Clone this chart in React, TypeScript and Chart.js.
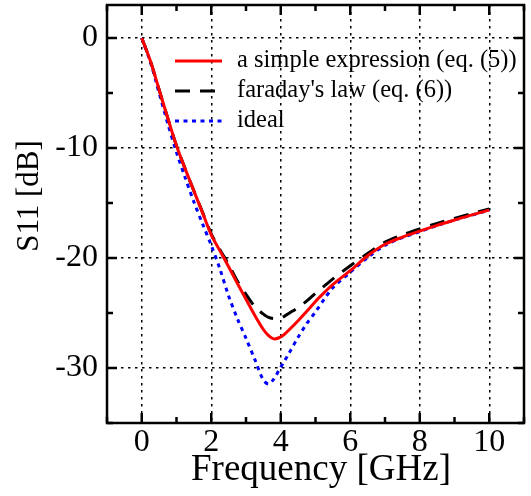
import React, { useEffect, useRef } from "react";
import { Chart, registerables } from "chart.js";

Chart.register(...registerables);

const freq = [0, 0.25, 0.5, 0.75, 1, 1.25, 1.5, 1.75, 2, 2.25, 2.5, 2.75, 3, 3.25, 3.5, 3.65, 3.8, 3.95, 4.1, 4.25, 4.5, 4.75, 5, 5.25, 5.5, 6, 6.5, 7, 7.5, 8, 8.5, 9, 9.5, 10];
const simpleExpr = [0, -2.1, -4.7, -7.3, -9.8, -11.9, -13.9, -15.9, -17.9, -19.35, -20.8, -22.3, -23.75, -25.2, -26.5, -27.05, -27.35, -27.25, -26.95, -26.5, -25.7, -24.85, -23.95, -23.15, -22.4, -21.15, -19.8, -18.75, -18.1, -17.55, -17.03, -16.55, -16.08, -15.65];
const faraday = [0, -2.1, -4.7, -7.3, -9.8, -11.9, -13.9, -15.85, -17.8, -19.25, -20.6, -22.1, -23.3, -24.4, -25.1, -25.4, -25.5, -25.5, -25.3, -25.0, -24.5, -23.9, -23.2, -22.55, -21.9, -20.7, -19.6, -18.55, -17.9, -17.35, -16.85, -16.4, -15.95, -15.55];
const ideal = [0, -2.2, -5.0, -7.8, -10.4, -12.7, -14.9, -16.9, -18.85, -21.0, -23.45, -25.5, -27.3, -29.2, -31.1, -31.45, -31.0, -30.2, -29.4, -28.6, -27.2, -25.95, -24.9, -23.75, -22.7, -21.3, -19.95, -18.85, -18.15, -17.6, -17.05, -16.55, -16.1, -15.65];

const seriesLabels = ["a simple expression (eq. (5))", "faraday's law (eq. (6))", "ideal"];
const xTickValues = [0, 2, 4, 6, 8, 10];
const yTickValues = [-30, -20, -10, 0];
const xMinorValues = [-1, 1, 3, 5, 7, 9, 11];
const yMinorValues = [-35, -25, -15, -5];
const xTitle = "Frequency [GHz]";
const yTitle = "S11 [dB]";

const SERIF = "'Liberation Serif', 'Times New Roman', serif";

const framePlugin = {
  id: "framePlugin",
  afterDraw(chart: any) {
    const ctx = chart.ctx;
    const { left, right, top, bottom } = chart.chartArea;
    const xs = chart.scales.x;
    const ys = chart.scales.y;
    ctx.save();
    ctx.strokeStyle = "#000";
    ctx.lineWidth = 2.5;
    ctx.setLineDash([]);
    const major = 10;
    const minor = 6;
    const drawX = (v: number, len: number) => {
      const px = xs.getPixelForValue(v);
      ctx.beginPath();
      ctx.moveTo(px, bottom);
      ctx.lineTo(px, bottom - len);
      ctx.moveTo(px, top);
      ctx.lineTo(px, top + len);
      ctx.stroke();
    };
    const drawY = (v: number, len: number) => {
      const py = ys.getPixelForValue(v);
      ctx.beginPath();
      ctx.moveTo(left, py);
      ctx.lineTo(left + len, py);
      ctx.moveTo(right, py);
      ctx.lineTo(right - len, py);
      ctx.stroke();
    };
    xTickValues.forEach((v) => drawX(v, major));
    xMinorValues.forEach((v) => drawX(v, minor));
    yTickValues.forEach((v) => drawY(v, major));
    yMinorValues.forEach((v) => drawY(v, minor));
    ctx.strokeRect(left, top, right - left, bottom - top);

    chart.data.datasets.forEach((ds: any, i: number) => {
      const y = 61 + 30 * i;
      ctx.beginPath();
      ctx.strokeStyle = ds.borderColor;
      ctx.lineWidth = ds.borderWidth;
      ctx.setLineDash(ds.borderDash || []);
      ctx.moveTo(175, y);
      ctx.lineTo(222, y);
      ctx.stroke();
      ctx.setLineDash([]);
      ctx.fillStyle = "#000";
      ctx.font = `24.5px ${SERIF}`;
      ctx.textAlign = "left";
      ctx.textBaseline = "middle";
      ctx.fillText(ds.label, 237, y);
    });

    ctx.fillStyle = "#000";
    ctx.font = `37px ${SERIF}`;
    ctx.textAlign = "center";
    ctx.textBaseline = "alphabetic";
    ctx.fillText(xTitle, 321, 480);

    ctx.save();
    ctx.translate(30, 196);
    ctx.rotate(-Math.PI / 2);
    ctx.font = `31px ${SERIF}`;
    ctx.textBaseline = "middle";
    ctx.textAlign = "center";
    ctx.fillText(yTitle, 0, 0);
    ctx.restore();
    ctx.restore();
  },
};

export default function App() {
  const ref = useRef<HTMLCanvasElement | null>(null);
  useEffect(() => {
    if (!ref.current) return;
    const mk = (arr: number[]) => freq.map((f, i) => ({ x: f, y: arr[i] }));
    const common = { pointRadius: 0, tension: 0.3, fill: false, borderWidth: 3 };
    const chart = new Chart(ref.current, {
      type: "line",
      data: {
        datasets: [
          { label: seriesLabels[0], data: mk(simpleExpr), borderColor: "#ff0000", borderDash: [], ...common },
          { label: seriesLabels[1], data: mk(faraday), borderColor: "#000000", borderDash: [15, 10], ...common },
          { label: seriesLabels[2], data: mk(ideal), borderColor: "#0000ff", borderDash: [4, 4.5], ...common },
        ],
      },
      options: {
        responsive: false,
        animation: false,
        layout: { padding: { top: 5, right: 7, bottom: 0, left: 0 } },
        plugins: { legend: { display: false }, tooltip: { enabled: false } },
        scales: {
          x: {
            type: "linear",
            min: -1,
            max: 11,
            afterBuildTicks: (s: any) => {
              s.ticks = xTickValues.map((v) => ({ value: v }));
            },
            afterFit: (s: any) => {
              s.height = 73;
              s.paddingLeft = 0;
              s.paddingRight = 0;
              s.paddingTop = 0;
              s.paddingBottom = 0;
            },
            grid: { color: "#000", lineWidth: 1.5, drawTicks: false },
            border: { display: false, dash: [2.5, 4.5] },
            ticks: {
              color: "#000",
              font: { family: SERIF, size: 32 },
              padding: 0,
              maxRotation: 0,
              autoSkip: false,
              callback: (v: any) => String(v),
            },
          },
          y: {
            type: "linear",
            min: -35,
            max: 3,
            afterBuildTicks: (s: any) => {
              s.ticks = yTickValues.map((v) => ({ value: v }));
            },
            afterFit: (s: any) => {
              s.width = 107;
              s.paddingLeft = 0;
              s.paddingRight = 0;
              s.paddingTop = 0;
              s.paddingBottom = 0;
            },
            grid: { color: "#000", lineWidth: 1.5, drawTicks: false },
            border: { display: false, dash: [2.5, 4.5] },
            ticks: {
              color: "#000",
              font: { family: SERIF, size: 32 },
              padding: 9,
              autoSkip: false,
              callback: (v: any) => String(v),
            },
          },
        },
      },
      plugins: [framePlugin],
    } as any);
    return () => chart.destroy();
  }, []);
  return (
    <div style={{ position: "fixed", left: 0, top: 0, width: 531, height: 496, background: "#fff" }}>
      <canvas ref={ref} width={531} height={496} style={{ display: "block" }} />
    </div>
  );
}
